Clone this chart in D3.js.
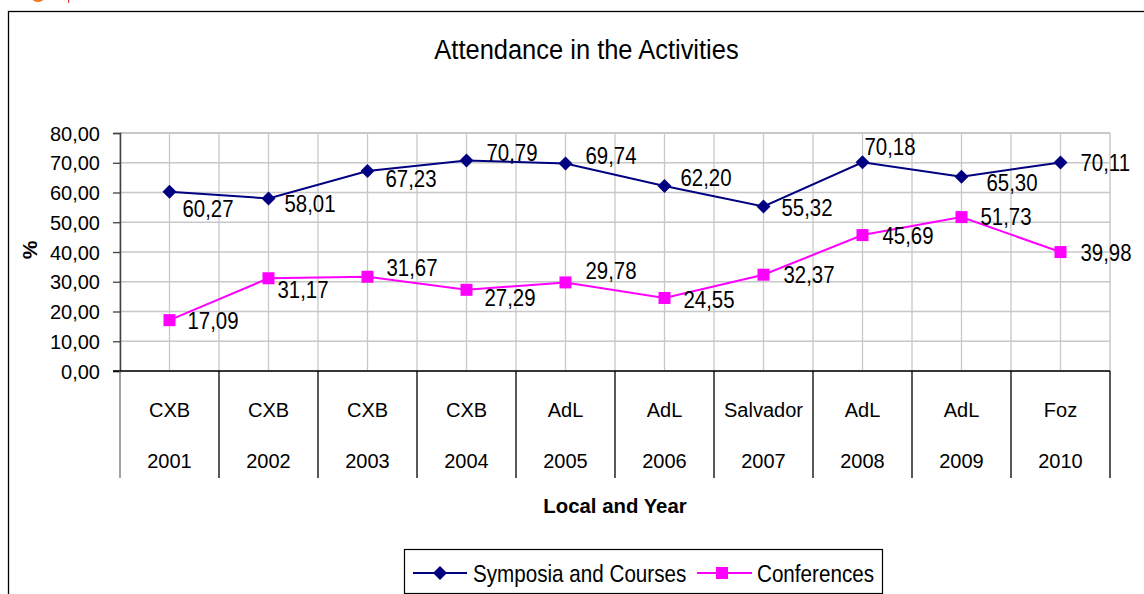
<!DOCTYPE html>
<html>
<head>
<meta charset="utf-8">
<script src="https://cdn.jsdelivr.net/npm/d3@7"></script>
<style>
  html, body { margin: 0; padding: 0; background: #fff; }
  svg { display: block; }
  text { font-family: "Liberation Sans", Arial, sans-serif; fill: #000; }
</style>
</head>
<body>
<svg id="chart" width="1144" height="594"></svg>
<script>
// ---- data ----
const locals = ["CXB", "CXB", "CXB", "CXB", "AdL", "AdL", "Salvador", "AdL", "AdL", "Foz"];
const years = ["2001", "2002", "2003", "2004", "2005", "2006", "2007", "2008", "2009", "2010"];
const symposia = [60.27, 58.01, 67.23, 70.79, 69.74, 62.20, 55.32, 70.18, 65.30, 70.11];
const conferences = [17.09, 31.17, 31.67, 27.29, 29.78, 24.55, 32.37, 45.69, 51.73, 39.98];
const yTicks = [0, 10, 20, 30, 40, 50, 60, 70, 80];
const seriesNames = ["Symposia and Courses", "Conferences"];
const chartTitle = "Attendance in the Activities";
const xTitle = "Local and Year";
const yTitle = "%";

// label placement (offsets from the point, in px) – layout only
const symLabelOffsets = [[13, 17], [16, 5], [18, 8], [20, -8], [20, -8], [16, -8], [18, 1], [2, -16], [25, 6], [20, 0]];
const confLabelOffsets = [[18, 0], [9, 11], [19, -9], [18, 8], [20, -12], [19, 2], [20, 0], [20, 0], [19, -1], [20, 0]];

const svg = d3.select("#chart");
const fmt = v => d3.format(".2f")(v).replace(".", ",");

function addText(parent, x, y, s, size, anchor, sx, weight) {
  return parent.append("text")
    .attr("transform", `translate(${x},${y}) scale(${sx},1)`)
    .attr("text-anchor", anchor)
    .style("font-size", size + "px")
    .style("font-weight", weight || "normal")
    .text(s);
}

// stray marks at the top-left (cropped page decoration)
svg.append("ellipse").attr("cx", 38).attr("cy", -2).attr("rx", 6).attr("ry", 4).attr("fill", "#f07820");
svg.append("rect").attr("x", 68).attr("y", 0).attr("width", 1.2).attr("height", 3).attr("fill", "#e04040");

// outer chart frame
svg.append("rect").attr("x", 8.5).attr("y", 11.5).attr("width", 1200).attr("height", 700)
  .attr("fill", "none").attr("stroke", "#000").attr("stroke-width", 1.3);

// scales
const x = d3.scaleBand().domain(d3.range(locals.length)).range([120, 1110]).padding(0);
const y = d3.scaleLinear().domain([0, 80]).range([371, 133]);
const cx = i => x(i) + x.bandwidth() / 2;

// gridlines
const grid = svg.append("g");
yTicks.forEach(t => {
  grid.append("line").attr("x1", 120).attr("x2", 1110).attr("y1", y(t)).attr("y2", y(t))
    .attr("stroke", "#c8c8c8").attr("stroke-width", 1.3);
});
d3.range(locals.length).forEach(i => {
  [x(i), cx(i)].forEach(xx => {
    grid.append("line").attr("x1", xx).attr("x2", xx).attr("y1", 133).attr("y2", 371)
      .attr("stroke", "#c8c8c8").attr("stroke-width", 1.3);
  });
});
grid.append("line").attr("x1", 1110).attr("x2", 1110).attr("y1", 133).attr("y2", 371)
  .attr("stroke", "#c8c8c8").attr("stroke-width", 1.5);
grid.append("line").attr("x1", 120).attr("x2", 1110).attr("y1", 133).attr("y2", 133)
  .attr("stroke", "#c8c8c8").attr("stroke-width", 1.8);

// y axis
const yAxis = svg.append("g").attr("transform", "translate(120,0)")
  .call(d3.axisLeft(y).tickValues(yTicks).tickSize(7).tickPadding(13).tickFormat(fmt));
yAxis.select(".domain").attr("stroke", "#404040").attr("stroke-width", 1.5);
yAxis.selectAll(".tick line").attr("stroke", "#404040").attr("stroke-width", 1.3);
yAxis.selectAll(".tick text").style("font-size", "20px").attr("font-family", null).attr("fill", "#000").attr("dy", "0.36em");

// category axis
const xa = svg.append("g");
xa.append("line").attr("x1", 113).attr("x2", 1110).attr("y1", 371).attr("y2", 371)
  .attr("stroke", "#000").attr("stroke-width", 1.5);
d3.range(locals.length + 1).forEach(i => {
  const xx = i < locals.length ? x(i) : 1110;
  xa.append("line").attr("x1", xx).attr("x2", xx).attr("y1", 371).attr("y2", 478)
    .attr("stroke", i === 0 ? "#707070" : "#000").attr("stroke-width", 1.3);
});
locals.forEach((l, i) => {
  addText(xa, cx(i), 416.5, l, 20, "middle", 1);
  addText(xa, cx(i), 467.5, years[i], 20, "middle", 1);
});

// titles
addText(svg, 586.5, 59, chartTitle, 28, "middle", 0.91);
addText(svg, 615, 513, xTitle, 21, "middle", 0.97, "bold");
svg.append("text").attr("transform", "translate(37,250) rotate(-90)")
  .attr("text-anchor", "middle").style("font-size", "21px").style("font-weight", "bold").text(yTitle);

// lines
const line = d3.line().x((d, i) => cx(i)).y(d => y(d));
svg.append("path").datum(conferences).attr("d", line).attr("fill", "none")
  .attr("stroke", "#ff00ff").attr("stroke-width", 2);
svg.append("path").datum(symposia).attr("d", line).attr("fill", "none")
  .attr("stroke", "#000080").attr("stroke-width", 2);

// markers
const diamond = (g, xx, yy) => g.append("path")
  .attr("d", `M${xx},${yy - 7}L${xx + 7},${yy}L${xx},${yy + 7}L${xx - 7},${yy}Z`).attr("fill", "#000080");
const square = (g, xx, yy) => g.append("rect")
  .attr("x", xx - 6).attr("y", yy - 6).attr("width", 12).attr("height", 12).attr("fill", "#ff00ff");

const mk = svg.append("g");
conferences.forEach((v, i) => square(mk, cx(i), y(v)));
symposia.forEach((v, i) => diamond(mk, cx(i), y(v)));

// data labels
const lab = svg.append("g");
symposia.forEach((v, i) => {
  const [dx, dy] = symLabelOffsets[i];
  addText(lab, cx(i) + dx, y(v) + dy + 8.5, fmt(v), 24, "start", 0.85);
});
conferences.forEach((v, i) => {
  const [dx, dy] = confLabelOffsets[i];
  addText(lab, cx(i) + dx, y(v) + dy + 8.5, fmt(v), 24, "start", 0.85);
});

// legend
const lg = svg.append("g");
lg.append("rect").attr("x", 404.5).attr("y", 549.5).attr("width", 478).attr("height", 44)
  .attr("fill", "#fff").attr("stroke", "#000").attr("stroke-width", 1.2);
lg.append("line").attr("x1", 413).attr("x2", 467).attr("y1", 573).attr("y2", 573)
  .attr("stroke", "#000080").attr("stroke-width", 2);
diamond(lg, 440, 573);
addText(lg, 473, 581.5, seriesNames[0], 24, "start", 0.86);
lg.append("line").attr("x1", 697).attr("x2", 752).attr("y1", 573).attr("y2", 573)
  .attr("stroke", "#ff00ff").attr("stroke-width", 2);
square(lg, 722, 573);
addText(lg, 757, 581.5, seriesNames[1], 24, "start", 0.86);
</script>
</body>
</html>
